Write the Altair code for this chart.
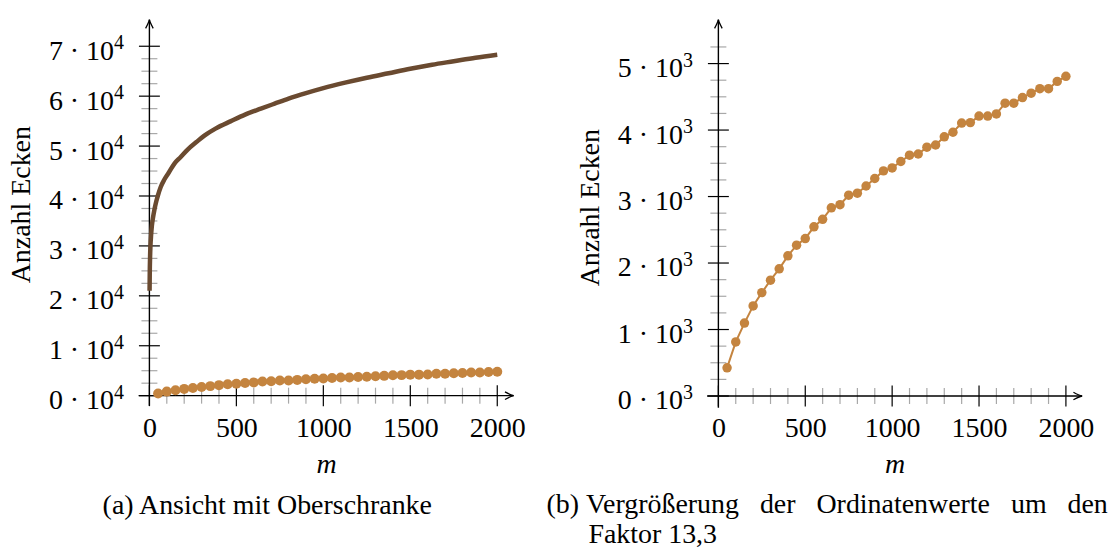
import altair as alt
import pandas as pd

# ---------------- data ----------------
m_vals = [50, 100, 150, 200, 250, 300, 350, 400, 450, 500,
          550, 600, 650, 700, 750, 800, 850, 900, 950, 1000,
          1050, 1100, 1150, 1200, 1250, 1300, 1350, 1400, 1450, 1500,
          1550, 1600, 1650, 1700, 1750, 1800, 1850, 1900, 1950, 2000]
ecken = [424, 813, 1097, 1355, 1555, 1742, 1913, 2108, 2269, 2368,
         2545, 2657, 2831, 2878, 3020, 3051, 3159, 3271, 3386, 3430,
         3527, 3622, 3640, 3742, 3775, 3898, 3967, 4105, 4112, 4210,
         4210, 4243, 4404, 4404, 4489, 4555, 4622, 4622, 4732, 4808]

bound_m = [1, 2, 4, 6, 10, 14, 20, 29, 40, 48, 65, 86, 110, 144, 180, 220,
           270, 316, 380, 469, 550, 641, 720, 800, 900, 1000, 1125, 1250,
           1375, 1500, 1625, 1750, 1875, 2000]
bound_v = [21000, 24500, 28000, 30000, 32300, 34000, 35500, 37300, 39000,
           40000, 41800, 43300, 44600, 46500, 47800, 49300, 50800, 52100,
           53500, 55000, 56300, 57500, 58500, 59500, 60600, 61600, 62700,
           63700, 64600, 65500, 66300, 67000, 67700, 68300]

x_major = [0, 500, 1000, 1500, 2000]
x_minor = [100, 200, 300, 400, 600, 700, 800, 900, 1100, 1200, 1300, 1400,
           1600, 1700, 1800, 1900]
ya_major = [0, 10000, 20000, 30000, 40000, 50000, 60000, 70000]
ya_minor = [2500, 5000, 7500, 12500, 15000, 17500, 22500, 25000, 27500,
            32500, 35000, 37500, 42500, 45000, 47500, 52500, 55000, 57500,
            62500, 65000, 67500]
yb_major = [0, 1000, 2000, 3000, 4000, 5000]
yb_minor = [250, 500, 750, 1250, 1500, 1750, 2250, 2500, 2750, 3250, 3500,
            3750, 4250, 4500, 4750, 5250]

caption_a = "(a) Ansicht mit Oberschranke"
caption_b = ["(b)\u00a0Vergrößerung\u00a0\u00a0\u00a0der\u00a0\u00a0\u00a0Ordinatenwerte\u00a0\u00a0\u00a0um\u00a0\u00a0\u00a0den",
             "\u200b\u00a0\u00a0\u00a0\u00a0\u00a0\u00a0Faktor 13,3"]

FONT = "Liberation Serif"
FS = 28
SUP_FS = 20
BROWN = "#6a4a30"
ORANGE = "#c4843f"
MINOR = "#a8a8a8"

ARROW_R = "M -1 -0.44 Q -0.35 -0.08 0 0 Q -0.35 0.08 -1 0.44"
ARROW_U = "M -0.44 1 Q -0.08 0.35 0 0 Q 0.08 0.35 0.44 1"


def panel(xdom, ydom, width, height, ymajor, yminor, label_expr, sup, title_y,
          series, title):
    x_off = -(0 - xdom[0]) / (xdom[1] - xdom[0]) * width
    y_off = -(0 - ydom[0]) / (ydom[1] - ydom[0]) * height
    xscale = alt.Scale(domain=xdom, nice=False, zero=False)
    yscale = alt.Scale(domain=ydom, nice=False, zero=False)
    xaxis = alt.Axis(values=x_major, format="d", offset=y_off,
                     labelPadding=19, title="m", titleFontStyle="italic",
                     titlePadding=8)
    yaxis = alt.Axis(values=ymajor, labelExpr=label_expr, offset=x_off,
                     labelPadding=36, labelBaseline="alphabetic", labelOffset=13,
                     title="Anzahl Ecken", titlePadding=13, titleY=title_y)
    X = alt.X("x:Q", scale=xscale, axis=xaxis)
    Y = alt.Y("y:Q", scale=yscale, axis=yaxis)

    def pts(xs, ys):
        return pd.DataFrame({"x": xs, "y": ys})

    layers = []
    layers.append(alt.Chart(pts([0] * len(yminor), yminor)).mark_tick(
        orient="horizontal", size=16, thickness=1.2, color=MINOR, opacity=1
    ).encode(x=X, y=Y))
    layers.append(alt.Chart(pts([0] * len(ymajor), ymajor)).mark_tick(
        orient="horizontal", size=21, thickness=1.2, color="black", opacity=1
    ).encode(x=X, y=Y))
    layers.append(alt.Chart(pts(x_minor, [0] * len(x_minor))).mark_tick(
        orient="vertical", size=16, thickness=1.2, color=MINOR, opacity=1
    ).encode(x=X, y=Y))
    layers.append(alt.Chart(pts(x_major, [0] * len(x_major))).mark_tick(
        orient="vertical", size=21, thickness=1.2, color="black", opacity=1
    ).encode(x=X, y=Y))
    # superscript exponents of the y tick labels
    layers.append(alt.Chart(pd.DataFrame({"x": [0] * len(ymajor), "y": ymajor,
                                          "t": [sup] * len(ymajor)}))
                  .mark_text(align="left", baseline="alphabetic", dx=-35.5, dy=3,
                             font=FONT, fontSize=SUP_FS, color="black")
                  .encode(x=X, y=Y, text="t:N"))
    # axis lines
    layers.append(alt.Chart(pd.DataFrame({"x": [xdom[0]], "x2": [xdom[1]], "y": [0]}))
                  .mark_rule(color="black", strokeWidth=1.4)
                  .encode(x=X, x2="x2:Q", y=Y))
    layers.append(alt.Chart(pd.DataFrame({"x": [0], "y": [ydom[0]], "y2": [ydom[1]]}))
                  .mark_rule(color="black", strokeWidth=1.4)
                  .encode(x=X, y=Y, y2="y2:Q"))
    # arrow heads
    layers.append(alt.Chart(pts([xdom[1]], [0])).mark_point(
        shape=ARROW_R, size=300, filled=False, color="black", strokeWidth=1.3, opacity=1
    ).encode(x=X, y=Y))
    layers.append(alt.Chart(pts([0], [ydom[1]])).mark_point(
        shape=ARROW_U, size=300, filled=False, color="black", strokeWidth=1.3, opacity=1
    ).encode(x=X, y=Y))
    for s in series:
        layers.append(s(X, Y))
    return alt.layer(*layers).properties(width=width, height=height, title=title)


def upper_bound(X, Y):
    return alt.Chart(pd.DataFrame({"x": bound_m, "y": bound_v})).mark_line(
        color=BROWN, strokeWidth=4.5, interpolate="monotone"
    ).encode(x=X, y=Y)


def corner_line(X, Y):
    return alt.Chart(pd.DataFrame({"x": m_vals, "y": ecken})).mark_line(
        color=ORANGE, strokeWidth=2
    ).encode(x=X, y=Y)


def corner_dots(size):
    def f(X, Y):
        return alt.Chart(pd.DataFrame({"x": m_vals, "y": ecken})).mark_circle(
            color=ORANGE, size=size, opacity=1
        ).encode(x=X, y=Y)
    return f


left = panel([-62, 2094], [-2000, 75320], 376, 387, ya_major, ya_minor,
             "(datum.value / 10000) + ' · 10'", "4", 185,
             [upper_bound, corner_line, corner_dots(100)],
             alt.TitleParams(caption_a, orient="bottom", anchor="middle",
                             frame="group", dx=-59, offset=14))

right = panel([-65, 2093], [-175, 5660], 376, 389, yb_major, yb_minor,
              "(datum.value / 1000) + ' · 10'", "3", 188,
              [corner_line, corner_dots(90)],
              alt.TitleParams(caption_b, orient="bottom", anchor="start",
                              frame="group", dx=-161, offset=12, align="left",
                              lineHeight=30))

chart = alt.hconcat(left, right, spacing=194, bounds="flush").properties(
    padding={"left": 7, "top": 16, "right": 0, "bottom": 0}
).configure_view(stroke=None).configure_axis(
    labelFont=FONT, labelFontSize=FS, labelColor="black",
    titleFont=FONT, titleFontSize=FS, titleColor="black", titleFontWeight="normal",
    grid=False, domain=False, ticks=False
).configure_title(
    font=FONT, fontSize=FS, color="black", fontWeight="normal"
)

chart.save("out.html", embed_options={"renderer": "svg", "actions": False})
